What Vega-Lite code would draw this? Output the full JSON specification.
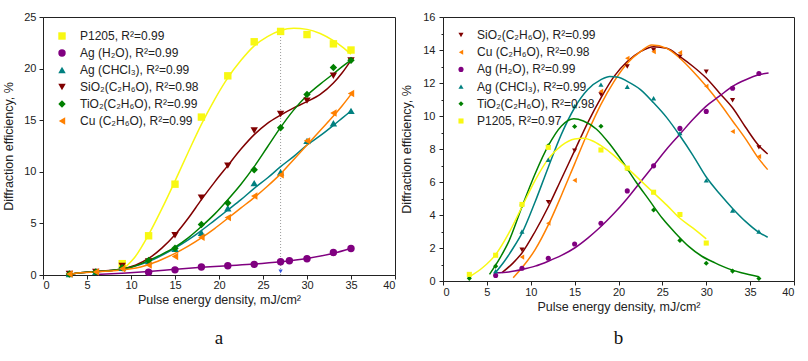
{
  "$schema": "https://vega.github.io/schema/vega-lite/v6.json",
  "padding": {"left": 2, "top": 10, "right": 6, "bottom": 0},
  "spacing": 4,
  "datasets": {
    "pointsA": [
      {"s": "P1205, R²=0.99", "x": 9, "y": 1.1}, {"s": "P1205, R²=0.99", "x": 12, "y": 3.8}, {"s": "P1205, R²=0.99", "x": 15, "y": 8.8}, {"s": "P1205, R²=0.99", "x": 18, "y": 15.3}, {"s": "P1205, R²=0.99", "x": 21, "y": 19.3}, {"s": "P1205, R²=0.99", "x": 24, "y": 22.6}, {"s": "P1205, R²=0.99", "x": 27, "y": 23.6}, {"s": "P1205, R²=0.99", "x": 30, "y": 23.3}, {"s": "P1205, R²=0.99", "x": 33, "y": 22.4}, {"s": "P1205, R²=0.99", "x": 35, "y": 21.8},
      {"s": "Ag (H₂O), R²=0.99", "x": 12, "y": 0.26}, {"s": "Ag (H₂O), R²=0.99", "x": 15, "y": 0.5}, {"s": "Ag (H₂O), R²=0.99", "x": 18, "y": 0.77}, {"s": "Ag (H₂O), R²=0.99", "x": 21, "y": 0.9}, {"s": "Ag (H₂O), R²=0.99", "x": 24, "y": 1.03}, {"s": "Ag (H₂O), R²=0.99", "x": 27, "y": 1.29}, {"s": "Ag (H₂O), R²=0.99", "x": 28, "y": 1.38}, {"s": "Ag (H₂O), R²=0.99", "x": 30, "y": 1.57}, {"s": "Ag (H₂O), R²=0.99", "x": 33, "y": 2.18}, {"s": "Ag (H₂O), R²=0.99", "x": 35, "y": 2.57},
      {"s": "Ag (CHCl₃), R²=0.99", "x": 3, "y": 0.1}, {"s": "Ag (CHCl₃), R²=0.99", "x": 6, "y": 0.3}, {"s": "Ag (CHCl₃), R²=0.99", "x": 9, "y": 0.7}, {"s": "Ag (CHCl₃), R²=0.99", "x": 12, "y": 1.35}, {"s": "Ag (CHCl₃), R²=0.99", "x": 15, "y": 2.55}, {"s": "Ag (CHCl₃), R²=0.99", "x": 18, "y": 4.1}, {"s": "Ag (CHCl₃), R²=0.99", "x": 21, "y": 6.46}, {"s": "Ag (CHCl₃), R²=0.99", "x": 24, "y": 8.9}, {"s": "Ag (CHCl₃), R²=0.99", "x": 27, "y": 9.96}, {"s": "Ag (CHCl₃), R²=0.99", "x": 30, "y": 13.0}, {"s": "Ag (CHCl₃), R²=0.99", "x": 33, "y": 14.7}, {"s": "Ag (CHCl₃), R²=0.99", "x": 35, "y": 15.9},
      {"s": "SiO₂(C₂H₆O), R²=0.98", "x": 3, "y": 0.1}, {"s": "SiO₂(C₂H₆O), R²=0.98", "x": 6, "y": 0.3}, {"s": "SiO₂(C₂H₆O), R²=0.98", "x": 9, "y": 0.87}, {"s": "SiO₂(C₂H₆O), R²=0.98", "x": 12, "y": 1.3}, {"s": "SiO₂(C₂H₆O), R²=0.98", "x": 15, "y": 3.86}, {"s": "SiO₂(C₂H₆O), R²=0.98", "x": 18, "y": 7.5}, {"s": "SiO₂(C₂H₆O), R²=0.98", "x": 21, "y": 10.6}, {"s": "SiO₂(C₂H₆O), R²=0.98", "x": 24, "y": 14.0}, {"s": "SiO₂(C₂H₆O), R²=0.98", "x": 27, "y": 15.6}, {"s": "SiO₂(C₂H₆O), R²=0.98", "x": 30, "y": 16.9}, {"s": "SiO₂(C₂H₆O), R²=0.98", "x": 33, "y": 19.3}, {"s": "SiO₂(C₂H₆O), R²=0.98", "x": 35, "y": 20.8},
      {"s": "TiO₂(C₂H₆O), R²=0.99", "x": 3, "y": 0.1}, {"s": "TiO₂(C₂H₆O), R²=0.99", "x": 6, "y": 0.3}, {"s": "TiO₂(C₂H₆O), R²=0.99", "x": 9, "y": 0.7}, {"s": "TiO₂(C₂H₆O), R²=0.99", "x": 12, "y": 1.4}, {"s": "TiO₂(C₂H₆O), R²=0.99", "x": 15, "y": 2.6}, {"s": "TiO₂(C₂H₆O), R²=0.99", "x": 18, "y": 4.9}, {"s": "TiO₂(C₂H₆O), R²=0.99", "x": 21, "y": 6.97}, {"s": "TiO₂(C₂H₆O), R²=0.99", "x": 24, "y": 10.2}, {"s": "TiO₂(C₂H₆O), R²=0.99", "x": 27, "y": 14.27}, {"s": "TiO₂(C₂H₆O), R²=0.99", "x": 30, "y": 17.5}, {"s": "TiO₂(C₂H₆O), R²=0.99", "x": 33, "y": 20.1}, {"s": "TiO₂(C₂H₆O), R²=0.99", "x": 35, "y": 20.8},
      {"s": "Cu (C₂H₆O), R²=0.99", "x": 3, "y": 0.1}, {"s": "Cu (C₂H₆O), R²=0.99", "x": 6, "y": 0.3}, {"s": "Cu (C₂H₆O), R²=0.99", "x": 9, "y": 0.6}, {"s": "Cu (C₂H₆O), R²=0.99", "x": 12, "y": 0.96}, {"s": "Cu (C₂H₆O), R²=0.99", "x": 15, "y": 1.8}, {"s": "Cu (C₂H₆O), R²=0.99", "x": 18, "y": 3.66}, {"s": "Cu (C₂H₆O), R²=0.99", "x": 21, "y": 5.56}, {"s": "Cu (C₂H₆O), R²=0.99", "x": 24, "y": 7.65}, {"s": "Cu (C₂H₆O), R²=0.99", "x": 27, "y": 9.7}, {"s": "Cu (C₂H₆O), R²=0.99", "x": 30, "y": 13.0}, {"s": "Cu (C₂H₆O), R²=0.99", "x": 33, "y": 15.7}, {"s": "Cu (C₂H₆O), R²=0.99", "x": 35, "y": 17.58}
    ],
    "curvesA": [
      {"s": "P1205", "x": 9.4, "y": 0.8}, {"s": "P1205", "x": 10.5, "y": 1.8}, {"s": "P1205", "x": 12, "y": 3.9}, {"s": "P1205", "x": 13.5, "y": 6.4}, {"s": "P1205", "x": 15, "y": 9.1}, {"s": "P1205", "x": 16.5, "y": 11.9}, {"s": "P1205", "x": 18, "y": 14.6}, {"s": "P1205", "x": 19.5, "y": 17.0}, {"s": "P1205", "x": 21, "y": 19.1}, {"s": "P1205", "x": 22.5, "y": 20.8}, {"s": "P1205", "x": 24, "y": 22.2}, {"s": "P1205", "x": 25.5, "y": 23.1}, {"s": "P1205", "x": 27, "y": 23.7}, {"s": "P1205", "x": 28.5, "y": 23.9}, {"s": "P1205", "x": 30, "y": 23.8}, {"s": "P1205", "x": 31.5, "y": 23.4}, {"s": "P1205", "x": 33, "y": 22.7}, {"s": "P1205", "x": 34, "y": 22.1}, {"s": "P1205", "x": 35, "y": 21.4},
      {"s": "AgW", "x": 6, "y": 0.05}, {"s": "AgW", "x": 9, "y": 0.18}, {"s": "AgW", "x": 12, "y": 0.35}, {"s": "AgW", "x": 15, "y": 0.55}, {"s": "AgW", "x": 18, "y": 0.74}, {"s": "AgW", "x": 21, "y": 0.9}, {"s": "AgW", "x": 24, "y": 1.06}, {"s": "AgW", "x": 27, "y": 1.28}, {"s": "AgW", "x": 30, "y": 1.6}, {"s": "AgW", "x": 33, "y": 2.1}, {"s": "AgW", "x": 35, "y": 2.6},
      {"s": "AgC", "x": 2.7, "y": 0.0}, {"s": "AgC", "x": 4, "y": 0.2}, {"s": "AgC", "x": 6, "y": 0.33}, {"s": "AgC", "x": 8, "y": 0.45}, {"s": "AgC", "x": 10, "y": 0.75}, {"s": "AgC", "x": 12, "y": 1.3}, {"s": "AgC", "x": 13.5, "y": 1.9}, {"s": "AgC", "x": 15, "y": 2.6}, {"s": "AgC", "x": 16.5, "y": 3.4}, {"s": "AgC", "x": 18, "y": 4.3}, {"s": "AgC", "x": 19.5, "y": 5.3}, {"s": "AgC", "x": 21, "y": 6.3}, {"s": "AgC", "x": 22.5, "y": 7.3}, {"s": "AgC", "x": 24, "y": 8.4}, {"s": "AgC", "x": 25.5, "y": 9.4}, {"s": "AgC", "x": 27, "y": 10.5}, {"s": "AgC", "x": 28.5, "y": 11.5}, {"s": "AgC", "x": 30, "y": 12.6}, {"s": "AgC", "x": 31.5, "y": 13.5}, {"s": "AgC", "x": 33, "y": 14.5}, {"s": "AgC", "x": 34, "y": 15.2}, {"s": "AgC", "x": 35, "y": 15.9},
      {"s": "SiO2", "x": 2.7, "y": 0.0}, {"s": "SiO2", "x": 4, "y": 0.2}, {"s": "SiO2", "x": 6, "y": 0.35}, {"s": "SiO2", "x": 8, "y": 0.45}, {"s": "SiO2", "x": 9, "y": 0.6}, {"s": "SiO2", "x": 10.5, "y": 0.95}, {"s": "SiO2", "x": 12, "y": 1.6}, {"s": "SiO2", "x": 13.5, "y": 2.6}, {"s": "SiO2", "x": 15, "y": 3.9}, {"s": "SiO2", "x": 16.5, "y": 5.5}, {"s": "SiO2", "x": 18, "y": 7.3}, {"s": "SiO2", "x": 19.5, "y": 9.0}, {"s": "SiO2", "x": 21, "y": 10.6}, {"s": "SiO2", "x": 22.5, "y": 12.2}, {"s": "SiO2", "x": 24, "y": 13.6}, {"s": "SiO2", "x": 25.5, "y": 14.7}, {"s": "SiO2", "x": 27, "y": 15.5}, {"s": "SiO2", "x": 28.5, "y": 16.2}, {"s": "SiO2", "x": 30, "y": 16.8}, {"s": "SiO2", "x": 31.5, "y": 17.5}, {"s": "SiO2", "x": 33, "y": 18.6}, {"s": "SiO2", "x": 34, "y": 19.6}, {"s": "SiO2", "x": 35, "y": 20.8},
      {"s": "TiO2", "x": 2.7, "y": 0.0}, {"s": "TiO2", "x": 4, "y": 0.2}, {"s": "TiO2", "x": 6, "y": 0.33}, {"s": "TiO2", "x": 8, "y": 0.45}, {"s": "TiO2", "x": 10, "y": 0.75}, {"s": "TiO2", "x": 12, "y": 1.4}, {"s": "TiO2", "x": 13.5, "y": 2.0}, {"s": "TiO2", "x": 15, "y": 2.7}, {"s": "TiO2", "x": 16.5, "y": 3.6}, {"s": "TiO2", "x": 18, "y": 4.7}, {"s": "TiO2", "x": 19.5, "y": 5.9}, {"s": "TiO2", "x": 21, "y": 7.3}, {"s": "TiO2", "x": 22.5, "y": 8.8}, {"s": "TiO2", "x": 24, "y": 10.5}, {"s": "TiO2", "x": 25.5, "y": 12.4}, {"s": "TiO2", "x": 27, "y": 14.3}, {"s": "TiO2", "x": 28.5, "y": 16.0}, {"s": "TiO2", "x": 30, "y": 17.4}, {"s": "TiO2", "x": 31.5, "y": 18.5}, {"s": "TiO2", "x": 33, "y": 19.5}, {"s": "TiO2", "x": 34, "y": 20.2}, {"s": "TiO2", "x": 35, "y": 20.8},
      {"s": "Cu", "x": 2.7, "y": 0.0}, {"s": "Cu", "x": 4, "y": 0.2}, {"s": "Cu", "x": 6, "y": 0.3}, {"s": "Cu", "x": 8, "y": 0.4}, {"s": "Cu", "x": 10, "y": 0.6}, {"s": "Cu", "x": 12, "y": 1.0}, {"s": "Cu", "x": 13.5, "y": 1.5}, {"s": "Cu", "x": 15, "y": 2.1}, {"s": "Cu", "x": 16.5, "y": 2.8}, {"s": "Cu", "x": 18, "y": 3.6}, {"s": "Cu", "x": 19.5, "y": 4.5}, {"s": "Cu", "x": 21, "y": 5.5}, {"s": "Cu", "x": 22.5, "y": 6.5}, {"s": "Cu", "x": 24, "y": 7.5}, {"s": "Cu", "x": 25.5, "y": 8.6}, {"s": "Cu", "x": 27, "y": 9.8}, {"s": "Cu", "x": 28.5, "y": 11.2}, {"s": "Cu", "x": 30, "y": 12.6}, {"s": "Cu", "x": 31.5, "y": 14.0}, {"s": "Cu", "x": 33, "y": 15.4}, {"s": "Cu", "x": 34, "y": 16.4}, {"s": "Cu", "x": 35, "y": 17.5}
    ],
    "ruleA": [{"x": 27, "y": 0, "y2": 23.6}],
    "arrowA": [{"x": 27, "y": 0.35}],
    "pointsB": [
      {"s": "SiO₂(C₂H₆O), R²=0.99", "x": 9, "y": 1.89}, {"s": "SiO₂(C₂H₆O), R²=0.99", "x": 12, "y": 4.78}, {"s": "SiO₂(C₂H₆O), R²=0.99", "x": 15, "y": 7.9}, {"s": "SiO₂(C₂H₆O), R²=0.99", "x": 18, "y": 11.3}, {"s": "SiO₂(C₂H₆O), R²=0.99", "x": 21, "y": 13.0}, {"s": "SiO₂(C₂H₆O), R²=0.99", "x": 24, "y": 14.0}, {"s": "SiO₂(C₂H₆O), R²=0.99", "x": 27, "y": 13.6}, {"s": "SiO₂(C₂H₆O), R²=0.99", "x": 30, "y": 12.68}, {"s": "SiO₂(C₂H₆O), R²=0.99", "x": 33, "y": 10.95}, {"s": "SiO₂(C₂H₆O), R²=0.99", "x": 36, "y": 8.1},
      {"s": "Cu (C₂H₆O), R²=0.98", "x": 9, "y": 1.45}, {"s": "Cu (C₂H₆O), R²=0.98", "x": 12, "y": 3.5}, {"s": "Cu (C₂H₆O), R²=0.98", "x": 15, "y": 6.1}, {"s": "Cu (C₂H₆O), R²=0.98", "x": 18, "y": 11.5}, {"s": "Cu (C₂H₆O), R²=0.98", "x": 21, "y": 13.5}, {"s": "Cu (C₂H₆O), R²=0.98", "x": 24, "y": 13.9}, {"s": "Cu (C₂H₆O), R²=0.98", "x": 27, "y": 13.84}, {"s": "Cu (C₂H₆O), R²=0.98", "x": 30, "y": 11.8}, {"s": "Cu (C₂H₆O), R²=0.98", "x": 33, "y": 9.06}, {"s": "Cu (C₂H₆O), R²=0.98", "x": 36, "y": 7.55},
      {"s": "Ag (H₂O), R²=0.99", "x": 6, "y": 0.33}, {"s": "Ag (H₂O), R²=0.99", "x": 9, "y": 0.77}, {"s": "Ag (H₂O), R²=0.99", "x": 12, "y": 1.38}, {"s": "Ag (H₂O), R²=0.99", "x": 15, "y": 2.24}, {"s": "Ag (H₂O), R²=0.99", "x": 18, "y": 3.5}, {"s": "Ag (H₂O), R²=0.99", "x": 21, "y": 5.46}, {"s": "Ag (H₂O), R²=0.99", "x": 24, "y": 6.98}, {"s": "Ag (H₂O), R²=0.99", "x": 27, "y": 9.25}, {"s": "Ag (H₂O), R²=0.99", "x": 30, "y": 10.28}, {"s": "Ag (H₂O), R²=0.99", "x": 33, "y": 11.68}, {"s": "Ag (H₂O), R²=0.99", "x": 36, "y": 12.58},
      {"s": "Ag (CHCl₃), R²=0.99", "x": 6, "y": 0.6}, {"s": "Ag (CHCl₃), R²=0.99", "x": 9, "y": 3.0}, {"s": "Ag (CHCl₃), R²=0.99", "x": 12, "y": 7.35}, {"s": "Ag (CHCl₃), R²=0.99", "x": 15, "y": 10.6}, {"s": "Ag (CHCl₃), R²=0.99", "x": 18, "y": 11.9}, {"s": "Ag (CHCl₃), R²=0.99", "x": 21, "y": 11.77}, {"s": "Ag (CHCl₃), R²=0.99", "x": 24, "y": 11.08}, {"s": "Ag (CHCl₃), R²=0.99", "x": 27, "y": 8.96}, {"s": "Ag (CHCl₃), R²=0.99", "x": 30, "y": 6.1}, {"s": "Ag (CHCl₃), R²=0.99", "x": 33, "y": 4.27}, {"s": "Ag (CHCl₃), R²=0.99", "x": 36, "y": 3.0},
      {"s": "TiO₂(C₂H₆O), R²=0.98", "x": 3, "y": 0.16}, {"s": "TiO₂(C₂H₆O), R²=0.98", "x": 6, "y": 0.9}, {"s": "TiO₂(C₂H₆O), R²=0.98", "x": 9, "y": 4.6}, {"s": "TiO₂(C₂H₆O), R²=0.98", "x": 12, "y": 8.2}, {"s": "TiO₂(C₂H₆O), R²=0.98", "x": 15, "y": 9.36}, {"s": "TiO₂(C₂H₆O), R²=0.98", "x": 18, "y": 9.38}, {"s": "TiO₂(C₂H₆O), R²=0.98", "x": 21, "y": 6.8}, {"s": "TiO₂(C₂H₆O), R²=0.98", "x": 24, "y": 4.3}, {"s": "TiO₂(C₂H₆O), R²=0.98", "x": 27, "y": 2.46}, {"s": "TiO₂(C₂H₆O), R²=0.98", "x": 30, "y": 1.08}, {"s": "TiO₂(C₂H₆O), R²=0.98", "x": 33, "y": 0.6}, {"s": "TiO₂(C₂H₆O), R²=0.98", "x": 36, "y": 0.15},
      {"s": "P1205, R²=0.97", "x": 3, "y": 0.4}, {"s": "P1205, R²=0.97", "x": 6, "y": 1.56}, {"s": "P1205, R²=0.97", "x": 9, "y": 4.64}, {"s": "P1205, R²=0.97", "x": 12, "y": 8.1}, {"s": "P1205, R²=0.97", "x": 18, "y": 7.94}, {"s": "P1205, R²=0.97", "x": 21, "y": 6.84}, {"s": "P1205, R²=0.97", "x": 24, "y": 5.38}, {"s": "P1205, R²=0.97", "x": 27, "y": 4.03}, {"s": "P1205, R²=0.97", "x": 30, "y": 2.3}
    ],
    "curvesB": [
      {"s": "SiO2", "x": 6.7, "y": 0.5}, {"s": "SiO2", "x": 8, "y": 1.1}, {"s": "SiO2", "x": 9, "y": 1.7}, {"s": "SiO2", "x": 10.5, "y": 3.0}, {"s": "SiO2", "x": 12, "y": 4.5}, {"s": "SiO2", "x": 13.5, "y": 6.2}, {"s": "SiO2", "x": 15, "y": 7.9}, {"s": "SiO2", "x": 16.5, "y": 9.6}, {"s": "SiO2", "x": 18, "y": 11.1}, {"s": "SiO2", "x": 19.5, "y": 12.4}, {"s": "SiO2", "x": 21, "y": 13.3}, {"s": "SiO2", "x": 22.5, "y": 13.9}, {"s": "SiO2", "x": 24, "y": 14.2}, {"s": "SiO2", "x": 25.5, "y": 14.1}, {"s": "SiO2", "x": 27, "y": 13.6}, {"s": "SiO2", "x": 28.5, "y": 13.0}, {"s": "SiO2", "x": 30, "y": 12.3}, {"s": "SiO2", "x": 31.5, "y": 11.4}, {"s": "SiO2", "x": 33, "y": 10.5}, {"s": "SiO2", "x": 34.5, "y": 9.3}, {"s": "SiO2", "x": 36, "y": 8.2}, {"s": "SiO2", "x": 37, "y": 7.7},
      {"s": "Cu", "x": 8, "y": 0.2}, {"s": "Cu", "x": 9, "y": 0.8}, {"s": "Cu", "x": 10.5, "y": 1.9}, {"s": "Cu", "x": 12, "y": 3.4}, {"s": "Cu", "x": 13.5, "y": 5.2}, {"s": "Cu", "x": 15, "y": 7.1}, {"s": "Cu", "x": 16.5, "y": 9.0}, {"s": "Cu", "x": 18, "y": 10.7}, {"s": "Cu", "x": 19.5, "y": 12.1}, {"s": "Cu", "x": 21, "y": 13.2}, {"s": "Cu", "x": 22.5, "y": 13.9}, {"s": "Cu", "x": 23.8, "y": 14.3}, {"s": "Cu", "x": 25.5, "y": 14.1}, {"s": "Cu", "x": 27, "y": 13.5}, {"s": "Cu", "x": 28.5, "y": 12.7}, {"s": "Cu", "x": 30, "y": 11.8}, {"s": "Cu", "x": 31.5, "y": 10.8}, {"s": "Cu", "x": 33, "y": 9.7}, {"s": "Cu", "x": 34.5, "y": 8.6}, {"s": "Cu", "x": 36, "y": 7.4}, {"s": "Cu", "x": 37, "y": 6.75},
      {"s": "AgW", "x": 6, "y": 0.5}, {"s": "AgW", "x": 7.5, "y": 0.55}, {"s": "AgW", "x": 9, "y": 0.7}, {"s": "AgW", "x": 10.5, "y": 0.9}, {"s": "AgW", "x": 12, "y": 1.2}, {"s": "AgW", "x": 13.5, "y": 1.55}, {"s": "AgW", "x": 15, "y": 2.0}, {"s": "AgW", "x": 16.5, "y": 2.6}, {"s": "AgW", "x": 18, "y": 3.3}, {"s": "AgW", "x": 19.5, "y": 4.1}, {"s": "AgW", "x": 21, "y": 5.0}, {"s": "AgW", "x": 22.5, "y": 6.0}, {"s": "AgW", "x": 24, "y": 7.0}, {"s": "AgW", "x": 25.5, "y": 8.0}, {"s": "AgW", "x": 27, "y": 8.9}, {"s": "AgW", "x": 28.5, "y": 9.8}, {"s": "AgW", "x": 30, "y": 10.6}, {"s": "AgW", "x": 31.5, "y": 11.2}, {"s": "AgW", "x": 33, "y": 11.8}, {"s": "AgW", "x": 34.5, "y": 12.2}, {"s": "AgW", "x": 36, "y": 12.5}, {"s": "AgW", "x": 37.1, "y": 12.6},
      {"s": "AgC", "x": 5.8, "y": 0.4}, {"s": "AgC", "x": 7, "y": 1.2}, {"s": "AgC", "x": 8, "y": 2.0}, {"s": "AgC", "x": 9, "y": 2.9}, {"s": "AgC", "x": 10.5, "y": 4.8}, {"s": "AgC", "x": 12, "y": 6.9}, {"s": "AgC", "x": 13.5, "y": 8.9}, {"s": "AgC", "x": 15, "y": 10.5}, {"s": "AgC", "x": 16.5, "y": 11.6}, {"s": "AgC", "x": 18, "y": 12.2}, {"s": "AgC", "x": 19, "y": 12.4}, {"s": "AgC", "x": 20, "y": 12.35}, {"s": "AgC", "x": 21, "y": 12.1}, {"s": "AgC", "x": 22.5, "y": 11.6}, {"s": "AgC", "x": 24, "y": 10.8}, {"s": "AgC", "x": 25.5, "y": 9.9}, {"s": "AgC", "x": 27, "y": 8.8}, {"s": "AgC", "x": 28.5, "y": 7.6}, {"s": "AgC", "x": 30, "y": 6.3}, {"s": "AgC", "x": 31.5, "y": 5.3}, {"s": "AgC", "x": 33, "y": 4.4}, {"s": "AgC", "x": 34.5, "y": 3.6}, {"s": "AgC", "x": 36, "y": 2.95}, {"s": "AgC", "x": 37, "y": 2.65},
      {"s": "TiO2", "x": 5.3, "y": 0.4}, {"s": "TiO2", "x": 6.5, "y": 1.4}, {"s": "TiO2", "x": 7.5, "y": 2.4}, {"s": "TiO2", "x": 9, "y": 4.5}, {"s": "TiO2", "x": 10.5, "y": 6.5}, {"s": "TiO2", "x": 12, "y": 8.2}, {"s": "TiO2", "x": 13.5, "y": 9.4}, {"s": "TiO2", "x": 14.9, "y": 9.83}, {"s": "TiO2", "x": 16, "y": 9.7}, {"s": "TiO2", "x": 17.5, "y": 9.2}, {"s": "TiO2", "x": 19, "y": 8.3}, {"s": "TiO2", "x": 20.5, "y": 7.2}, {"s": "TiO2", "x": 22, "y": 6.0}, {"s": "TiO2", "x": 23.5, "y": 4.9}, {"s": "TiO2", "x": 25, "y": 3.8}, {"s": "TiO2", "x": 26.5, "y": 2.9}, {"s": "TiO2", "x": 28, "y": 2.1}, {"s": "TiO2", "x": 29.5, "y": 1.5}, {"s": "TiO2", "x": 31, "y": 1.1}, {"s": "TiO2", "x": 32.5, "y": 0.75}, {"s": "TiO2", "x": 34, "y": 0.5}, {"s": "TiO2", "x": 36, "y": 0.26},
      {"s": "P1205", "x": 3, "y": 0.25}, {"s": "P1205", "x": 4.5, "y": 0.8}, {"s": "P1205", "x": 6, "y": 1.6}, {"s": "P1205", "x": 7.5, "y": 2.9}, {"s": "P1205", "x": 9, "y": 4.5}, {"s": "P1205", "x": 10.5, "y": 6.1}, {"s": "P1205", "x": 12, "y": 7.4}, {"s": "P1205", "x": 13.5, "y": 8.2}, {"s": "P1205", "x": 15, "y": 8.6}, {"s": "P1205", "x": 16, "y": 8.65}, {"s": "P1205", "x": 17, "y": 8.5}, {"s": "P1205", "x": 18, "y": 8.2}, {"s": "P1205", "x": 19.5, "y": 7.6}, {"s": "P1205", "x": 21, "y": 6.85}, {"s": "P1205", "x": 22.5, "y": 6.1}, {"s": "P1205", "x": 24, "y": 5.35}, {"s": "P1205", "x": 25.5, "y": 4.6}, {"s": "P1205", "x": 27, "y": 3.8}, {"s": "P1205", "x": 28.5, "y": 3.2}, {"s": "P1205", "x": 30, "y": 2.55}
    ]
  },
  "hconcat": [
    {
      "width": 352,
      "height": 258,
      "title": {"text": "a", "orient": "bottom", "font": "Liberation Serif", "fontSize": 19, "fontWeight": "normal", "color": "#111", "offset": 23},
      "layer": [
        {
          "data": {"name": "ruleA"},
          "mark": {"type": "rule", "strokeDash": [1, 2], "color": "#9a9a9a", "strokeWidth": 1},
          "encoding": {
            "x": {"field": "x", "type": "quantitative", "scale": {"domain": [0, 40], "nice": false},
              "axis": {"title": "Pulse energy density, mJ/cm²", "values": [0, 2.5, 5, 7.5, 10, 12.5, 15, 17.5, 20, 22.5, 25, 27.5, 30, 32.5, 35, 37.5, 40], "labelExpr": "datum.value % 5 === 0 ? datum.label : ''", "tickSize": {"condition": {"test": "datum.value % 5 === 0", "value": 4}, "value": 2}, "labelPadding": 0, "titlePadding": 3}},
            "y": {"field": "y", "type": "quantitative", "scale": {"domain": [0, 25], "nice": false},
              "axis": {"title": "Diffraction efficiency, %", "values": [0, 2.5, 5, 7.5, 10, 12.5, 15, 17.5, 20, 22.5, 25], "labelExpr": "datum.value % 5 === 0 ? datum.label : ''", "tickSize": {"condition": {"test": "datum.value % 5 === 0", "value": 4}, "value": 2}, "labelPadding": 3, "titlePadding": 8}},
            "y2": {"field": "y2"}
          }
        },
        {
          "data": {"name": "curvesA"},
          "mark": {"type": "line", "interpolate": "monotone", "strokeWidth": 1.5},
          "encoding": {
            "x": {"field": "x", "type": "quantitative"},
            "y": {"field": "y", "type": "quantitative"},
            "stroke": {"field": "s", "type": "nominal", "legend": null,
              "scale": {"domain": ["P1205", "AgW", "AgC", "SiO2", "TiO2", "Cu"], "range": ["#F8F812", "#800080", "#008080", "#800000", "#008000", "#FF8000"]}}
          }
        },
        {
          "data": {"name": "pointsA"},
          "mark": {"type": "point", "filled": true, "size": 55, "opacity": 1, "strokeWidth": 0},
          "encoding": {
            "x": {"field": "x", "type": "quantitative"},
            "y": {"field": "y", "type": "quantitative"},
            "fill": {"field": "s", "type": "nominal",
              "scale": {"domain": ["P1205, R²=0.99", "Ag (H₂O), R²=0.99", "Ag (CHCl₃), R²=0.99", "SiO₂(C₂H₆O), R²=0.98", "TiO₂(C₂H₆O), R²=0.99", "Cu (C₂H₆O), R²=0.99"], "range": ["#F8F812", "#800080", "#008080", "#800000", "#008000", "#FF8000"]},
              "legend": {"orient": "top-left", "offset": 13, "title": null, "padding": 0, "labelFontSize": 12, "symbolSize": 55, "rowPadding": 3, "labelOffset": 12, "labelColor": "#222", "labelFont": "Liberation Sans"}},
            "shape": {"field": "s", "type": "nominal",
              "scale": {"domain": ["P1205, R²=0.99", "Ag (H₂O), R²=0.99", "Ag (CHCl₃), R²=0.99", "SiO₂(C₂H₆O), R²=0.98", "TiO₂(C₂H₆O), R²=0.99", "Cu (C₂H₆O), R²=0.99"], "range": ["square", "circle", "triangle-up", "triangle-down", "diamond", "triangle-left"]},
              "legend": {"orient": "top-left", "offset": 13, "title": null, "padding": 0, "labelFontSize": 12, "symbolSize": 55, "rowPadding": 3, "labelOffset": 12, "labelColor": "#222", "labelFont": "Liberation Sans"}}
          }
        },
        {
          "data": {"name": "arrowA"},
          "mark": {"type": "point", "filled": true, "shape": "triangle-down", "size": 18, "color": "#3355dd", "opacity": 1},
          "encoding": {
            "x": {"field": "x", "type": "quantitative"},
            "y": {"field": "y", "type": "quantitative"}
          }
        }
      ]
    },
    {
      "width": 351,
      "height": 264,
      "title": {"text": "b", "orient": "bottom", "font": "Liberation Serif", "fontSize": 19, "fontWeight": "normal", "color": "#111", "offset": 16},
      "layer": [
        {
          "data": {"name": "curvesB"},
          "mark": {"type": "line", "interpolate": "monotone", "strokeWidth": 1.5},
          "encoding": {
            "x": {"field": "x", "type": "quantitative", "scale": {"domain": [0, 40], "nice": false},
              "axis": {"title": "Pulse energy density, mJ/cm²", "values": [0, 2.5, 5, 7.5, 10, 12.5, 15, 17.5, 20, 22.5, 25, 27.5, 30, 32.5, 35, 37.5, 40], "labelExpr": "datum.value % 5 === 0 ? datum.label : ''", "tickSize": {"condition": {"test": "datum.value % 5 === 0", "value": 4}, "value": 2}, "labelPadding": 1, "titlePadding": 3}},
            "y": {"field": "y", "type": "quantitative", "scale": {"domain": [0, 16], "nice": false},
              "axis": {"title": "Diffraction efficiency, %", "values": [0, 1, 2, 3, 4, 5, 6, 7, 8, 9, 10, 11, 12, 13, 14, 15, 16], "labelExpr": "datum.value % 2 === 0 ? format(datum.value, 'd') : ''", "labelOverlap": false, "labelSeparation": 0, "labelFlush": false, "tickSize": {"condition": {"test": "datum.value % 2 === 0", "value": 4}, "value": 2}, "labelPadding": 4, "titlePadding": 9}},
            "stroke": {"field": "s", "type": "nominal", "legend": null,
              "scale": {"domain": ["SiO2", "Cu", "AgW", "AgC", "TiO2", "P1205"], "range": ["#800000", "#FF8000", "#800080", "#008080", "#008000", "#F8F812"]}}
          }
        },
        {
          "data": {"name": "pointsB"},
          "mark": {"type": "point", "filled": true, "size": 26, "opacity": 1, "strokeWidth": 0},
          "encoding": {
            "x": {"field": "x", "type": "quantitative"},
            "y": {"field": "y", "type": "quantitative", "axis": {"title": "Diffraction efficiency, %", "values": [0, 1, 2, 3, 4, 5, 6, 7, 8, 9, 10, 11, 12, 13, 14, 15, 16], "labelExpr": "datum.value % 2 === 0 ? format(datum.value, 'd') : ''", "labelOverlap": false, "labelSeparation": 0, "labelFlush": false, "tickSize": {"condition": {"test": "datum.value % 2 === 0", "value": 4}, "value": 2}, "labelPadding": 4, "titlePadding": 9}},
            "fill": {"field": "s", "type": "nominal",
              "scale": {"domain": ["SiO₂(C₂H₆O), R²=0.99", "Cu (C₂H₆O), R²=0.98", "Ag (H₂O), R²=0.99", "Ag (CHCl₃), R²=0.99", "TiO₂(C₂H₆O), R²=0.98", "P1205, R²=0.97"], "range": ["#800000", "#FF8000", "#800080", "#008080", "#008000", "#F8F812"]},
              "legend": {"orient": "top-left", "offset": 12, "title": null, "padding": 0, "labelFontSize": 12, "symbolSize": 26, "rowPadding": 5.2, "labelOffset": 10, "labelColor": "#222", "labelFont": "Liberation Sans"}},
            "shape": {"field": "s", "type": "nominal",
              "scale": {"domain": ["SiO₂(C₂H₆O), R²=0.99", "Cu (C₂H₆O), R²=0.98", "Ag (H₂O), R²=0.99", "Ag (CHCl₃), R²=0.99", "TiO₂(C₂H₆O), R²=0.98", "P1205, R²=0.97"], "range": ["triangle-down", "triangle-left", "circle", "triangle-up", "diamond", "square"]},
              "legend": {"orient": "top-left", "offset": 12, "title": null, "padding": 0, "labelFontSize": 12, "symbolSize": 26, "rowPadding": 5.2, "labelOffset": 10, "labelColor": "#222", "labelFont": "Liberation Sans"}}
          }
        }
      ]
    }
  ],
  "resolve": {"scale": {"x": "independent", "y": "independent", "fill": "independent", "shape": "independent", "stroke": "independent"}},
  "config": {
    "font": "Liberation Sans",
    "view": {"stroke": "#222", "strokeWidth": 1},
    "axis": {"grid": false, "labelOverlap": false, "labelFont": "Liberation Sans", "labelFontSize": 11, "labelColor": "#222", "titleFont": "Liberation Sans", "titleFontSize": 12.5, "titleFontWeight": "normal", "titleColor": "#222", "domainColor": "#222", "tickColor": "#222"}
  }
}
